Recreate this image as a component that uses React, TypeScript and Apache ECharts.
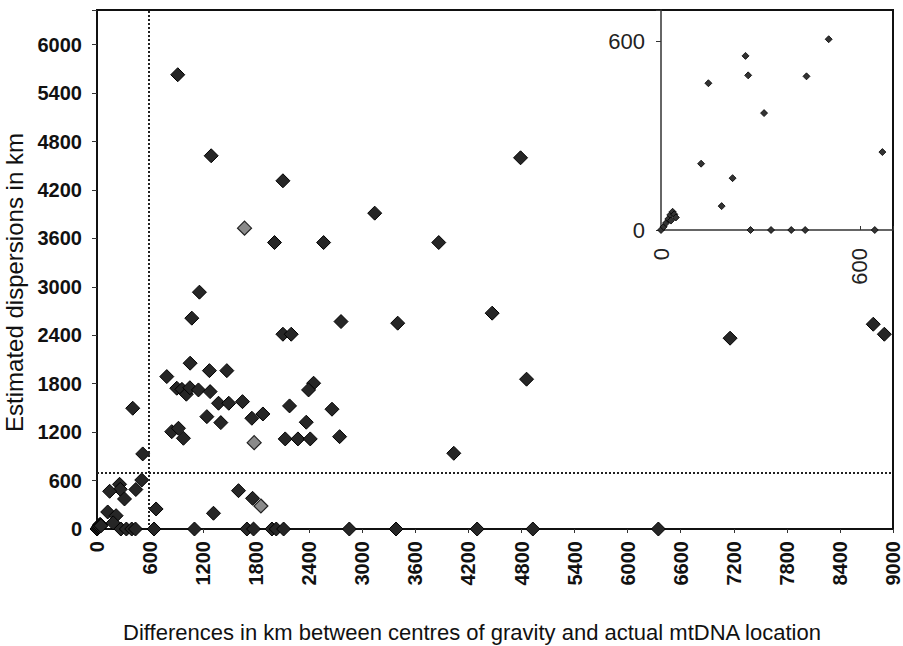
import React, { useEffect, useRef } from "react";
import * as echarts from "echarts";

// [difference km, estimated dispersion km]
const darkPoints: number[][] = [
  [913, 5628], [1291, 4624], [2102, 4314], [2007, 3549], [2562, 3549], [3140, 3913],
  [3864, 3549], [4789, 4599], [1158, 2934], [1072, 2612], [2759, 2570], [3400, 2550],
  [2102, 2413], [2196, 2413], [1053, 2054], [789, 1888], [1271, 1962], [1468, 1962],
  [2449, 1806], [2392, 1723], [902, 1744], [960, 1730], [1010, 1670], [1050, 1750],
  [1147, 1723], [1279, 1702], [1374, 1558], [1490, 1558], [1645, 1578], [1242, 1392],
  [1400, 1318], [1751, 1372], [1876, 1425], [2177, 1525], [2657, 1484], [2366, 1323],
  [845, 1206], [921, 1248], [977, 1124], [2128, 1116], [2272, 1116], [2411, 1116],
  [2743, 1144], [1600, 475], [1759, 380], [1317, 195], [1102, 0], [1695, 0], [1770, 0],
  [1978, 0], [2027, 0], [2110, 0], [2853, 0], [3381, 0], [4034, 938], [4468, 2674],
  [4857, 1856], [7158, 2364], [8777, 2537], [8902, 2413], [4298, 0], [4928, 0],
  [6347, 0], [404, 1496], [517, 930]
];
const greyPoints: number[][] = [
  [1668, 3727], [1777, 1070], [1853, 285]
];
// points that fall inside the enlarged window (0-700 x 0-700)
const smallPoints: number[][] = [
  [506, 607], [255, 554], [263, 492], [143, 467], [439, 489], [311, 372], [668, 248],
  [121, 211], [216, 165], [183, 76], [270, 0], [332, 0], [393, 0], [435, 0], [645, 0],
  [0, 0], [8, 10], [15, 22], [22, 35], [28, 48], [35, 58], [40, 50], [30, 30], [45, 40]
];
const verticalCut = 590;
const horizontalCut = 700;

const FONT = "'Liberation Sans', Arial, sans-serif";

export default function App() {
  const ref = useRef<HTMLDivElement>(null);
  useEffect(() => {
    document.body.style.margin = "0";
    const chart = echarts.init(ref.current!, null, { renderer: "svg" });
    const only600 = (v: number) => (v % 600 === 0 ? String(v) : "");
    chart.setOption({
      animation: false,
      backgroundColor: "#ffffff",
      textStyle: { fontFamily: FONT },
      grid: [
        { left: 97, top: 10, width: 796, height: 519, show: true, borderColor: "#111", borderWidth: 2, backgroundColor: "transparent", containLabel: false, outerBoundsMode: "none" },
        { left: 661, top: 10, width: 232, height: 220, show: false, containLabel: false, outerBoundsMode: "none" }
      ],
      xAxis: [
        {
          type: "value", gridIndex: 0, min: 0, max: 9000, interval: 600,
          name: "Differences in km between centres of gravity and actual mtDNA location",
          nameLocation: "middle", nameGap: 92,
          nameTextStyle: { fontSize: 22, color: "#111", fontFamily: FONT, padding: [0, 46, 0, 0] },
          axisLine: { show: true, onZero: false, lineStyle: { color: "#111", width: 2 } },
          axisTick: { show: true, length: 4, lineStyle: { color: "#333" } },
          axisLabel: { rotate: 90, fontSize: 20, fontWeight: "bold", color: "#111", margin: 12, fontFamily: FONT, formatter: only600 },
          splitLine: { show: false }
        },
        {
          type: "value", gridIndex: 1, min: 0, max: 700, interval: 600,
          axisLine: { show: true, onZero: false, lineStyle: { color: "#333", width: 1.5 } },
          axisTick: { show: true, length: 4, inside: true, lineStyle: { color: "#333" } },
          axisLabel: { rotate: 90, fontSize: 22, color: "#222", margin: 18, fontFamily: FONT, formatter: only600 },
          splitLine: { show: false }
        }
      ],
      yAxis: [
        {
          type: "value", gridIndex: 0, min: 0, max: 6430, interval: 600,
          name: "Estimated dispersions in km",
          nameLocation: "middle", nameGap: 65,
          nameTextStyle: { fontSize: 24, color: "#111", fontFamily: FONT, padding: [0, 26, 0, 0] },
          axisLine: { show: true, onZero: false, lineStyle: { color: "#111", width: 2 } },
          axisTick: { show: true, length: 5, lineStyle: { color: "#333" } },
          axisLabel: { fontSize: 20, fontWeight: "bold", color: "#111", margin: 15, fontFamily: FONT, formatter: only600 },
          splitLine: { show: false }
        },
        {
          type: "value", gridIndex: 1, min: 0, max: 700, interval: 600,
          axisLine: { show: true, onZero: false, lineStyle: { color: "#333", width: 1.5 } },
          axisTick: { show: true, length: 5, lineStyle: { color: "#333" } },
          axisLabel: { fontSize: 22, color: "#222", margin: 16, fontFamily: FONT, formatter: only600 },
          splitLine: { show: false }
        }
      ],
      series: [
        {
          type: "scatter", xAxisIndex: 0, yAxisIndex: 0,
          data: [...darkPoints, ...smallPoints],
          symbol: "diamond", symbolSize: 14,
          itemStyle: { color: "#262626", borderColor: "#000", borderWidth: 1, opacity: 1 },
          markLine: {
            silent: true, symbol: "none", label: { show: false },
            lineStyle: { type: "dotted", color: "#222", width: 2 },
            data: [{ xAxis: verticalCut }, { yAxis: horizontalCut }]
          },
          z: 3
        },
        {
          type: "scatter", xAxisIndex: 0, yAxisIndex: 0,
          data: greyPoints,
          symbol: "diamond", symbolSize: 14,
          itemStyle: { color: "#8a8a8a", borderColor: "#222", borderWidth: 1.2, opacity: 1 },
          z: 3
        },
        {
          type: "scatter", xAxisIndex: 1, yAxisIndex: 1,
          data: smallPoints,
          symbol: "diamond", symbolSize: 7,
          itemStyle: { color: "#333", borderColor: "#000", borderWidth: 0.8, opacity: 1 },
          z: 3
        }
      ]
    });
    return () => chart.dispose();
  }, []);
  return <div ref={ref} style={{ position: "fixed", left: 0, top: 0, width: 903, height: 646 }} />;
}
